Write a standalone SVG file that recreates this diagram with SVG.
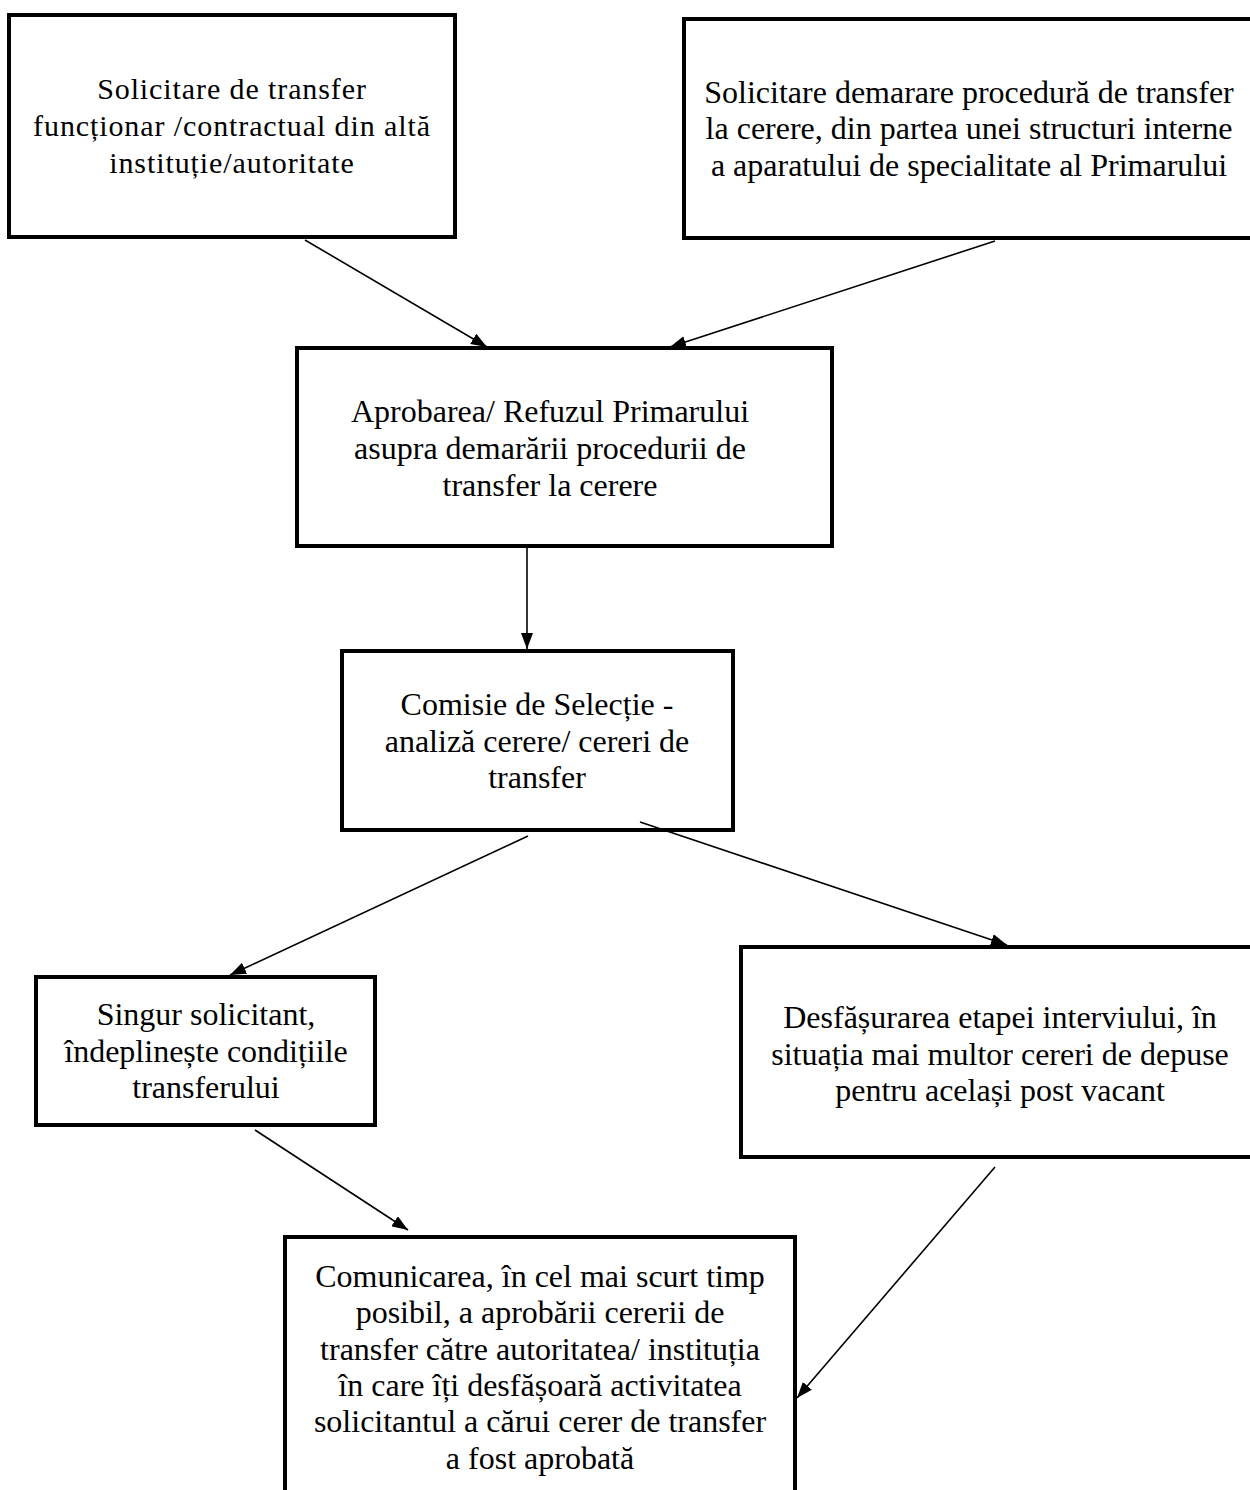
<svg xmlns="http://www.w3.org/2000/svg" width="1250" height="1490" viewBox="0 0 1250 1490">
<style>
.box{fill:#fff;stroke:#000;stroke-width:4}
.t{font-family:"Liberation Serif","Times New Roman",serif;font-size:32px;fill:#000;text-anchor:middle}
.t1{font-family:"Liberation Serif","Times New Roman",serif;font-size:30px;fill:#000;text-anchor:middle;letter-spacing:0.9px}
.c{stroke:#000;stroke-width:1.6;fill:none}
</style>
<defs>
<marker id="ah" viewBox="0 0 16 12" refX="16" refY="6" markerWidth="16" markerHeight="12" markerUnits="userSpaceOnUse" orient="auto">
<path d="M0,0 L16,6 L0,12 z" fill="#000"/>
</marker>
</defs>
<rect x="0" y="0" width="1250" height="1490" fill="#fff"/>
<g id="n1">
<rect class="box" x="9" y="15" width="446" height="222"/>
<text class="t1" x="232" y="99">Solicitare de transfer</text>
<text class="t1" x="232" y="136">funcționar /contractual din altă</text>
<text class="t1" x="232" y="173">instituție/autoritate</text>
</g>
<g id="n2">
<rect class="box" x="684" y="19" width="580" height="219"/>
<text class="t" x="969" y="103">Solicitare demarare procedură de transfer</text>
<text class="t" x="969" y="139">la cerere, din partea unei structuri interne</text>
<text class="t" x="969" y="176">a aparatului de specialitate al Primarului</text>
</g>
<g id="n3">
<rect class="box" x="297" y="348" width="535" height="198"/>
<text class="t" x="550" y="422">Aprobarea/ Refuzul Primarului</text>
<text class="t" x="550" y="459">asupra demarării procedurii de</text>
<text class="t" x="550" y="496">transfer la cerere</text>
</g>
<g id="n4">
<rect class="box" x="342" y="651" width="391" height="179"/>
<text class="t" x="537" y="715">Comisie de Selecție -</text>
<text class="t" x="537" y="752">analiză cerere/ cereri de</text>
<text class="t" x="537" y="788">transfer</text>
</g>
<g id="n5">
<rect class="box" x="36" y="977" width="339" height="148"/>
<text class="t" x="206" y="1025">Singur solicitant,</text>
<text class="t" x="206" y="1062">îndeplinește condițiile</text>
<text class="t" x="206" y="1098">transferului</text>
</g>
<g id="n6">
<rect class="box" x="741" y="947" width="520" height="210"/>
<text class="t" x="1000" y="1028">Desfășurarea etapei interviului, în</text>
<text class="t" x="1000" y="1065">situația mai multor cereri de depuse</text>
<text class="t" x="1000" y="1101">pentru același post vacant</text>
</g>
<g id="n7">
<rect class="box" x="285" y="1237" width="510" height="270"/>
<text class="t" x="540" y="1287">Comunicarea, în cel mai scurt timp</text>
<text class="t" x="540" y="1323">posibil, a aprobării cererii de</text>
<text class="t" x="540" y="1360">transfer către autoritatea/ instituția</text>
<text class="t" x="540" y="1396">în care îți desfășoară activitatea</text>
<text class="t" x="540" y="1432">solicitantul a cărui cerer de transfer</text>
<text class="t" x="540" y="1469">a fost aprobată</text>
</g>
<g id="connectors">
<line class="c" x1="305" y1="240" x2="487" y2="347" marker-end="url(#ah)"/>
<line class="c" x1="995" y1="241" x2="670" y2="347" marker-end="url(#ah)"/>
<line class="c" x1="527" y1="548" x2="527" y2="649" marker-end="url(#ah)"/>
<line class="c" x1="528" y1="836" x2="230" y2="975" marker-end="url(#ah)"/>
<line class="c" x1="640" y1="822" x2="1007" y2="945" marker-end="url(#ah)"/>
<line class="c" x1="255" y1="1130" x2="408" y2="1230" marker-end="url(#ah)"/>
<line class="c" x1="995" y1="1167" x2="797" y2="1398" marker-end="url(#ah)"/>
</g>
</svg>
